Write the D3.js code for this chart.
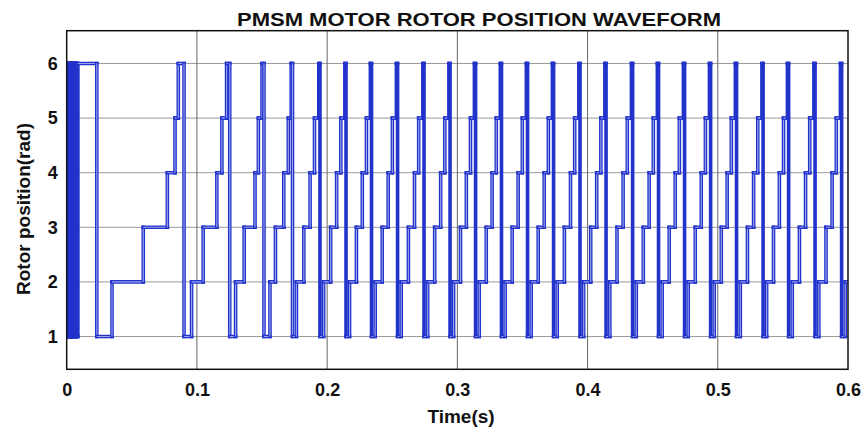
<!doctype html>
<html>
<head>
<meta charset="utf-8">
<title>PMSM Motor Rotor Position</title>
<script src="https://d3js.org/d3.v7.min.js"></script>
<style>
  body { margin: 0; background: #fff; }
  text { font-family: "Liberation Sans", Arial, sans-serif; font-weight: bold; fill: #111; }
</style>
</head>
<body>
<svg width="864" height="429"></svg>
<script>

// rotor position (hall sector) switching instants, seconds, and the level after each switch
var switchTimes = [
  0.0004, 0.0008, 0.0012, 0.0016, 0.0020, 0.0024, 0.0028, 0.0032, 0.0036, 0.0040, 0.0044,
  0.0048, 0.0052, 0.0056, 0.0060, 0.0064, 0.0068, 0.0072, 0.0076, 0.0080, 0.0086,
  0.0231, 0.0348, 0.0588, 0.0773, 0.0832, 0.0857,
  0.0901, 0.0959, 0.1048, 0.1153, 0.1192, 0.1228,
  0.1252, 0.1297, 0.1363, 0.1446, 0.1472, 0.1500,
  0.1515, 0.1561, 0.1603, 0.1667, 0.1702, 0.1724,
  0.1734, 0.1764, 0.1821, 0.1869, 0.1903, 0.1936,
  0.1945, 0.1973, 0.2027, 0.2073, 0.2105, 0.2136,
  0.2145, 0.2172, 0.2225, 0.2270, 0.2302, 0.2332,
  0.2341, 0.2369, 0.2423, 0.2469, 0.2501, 0.2532,
  0.2541, 0.2569, 0.2624, 0.2671, 0.2703, 0.2735,
  0.2744, 0.2772, 0.2826, 0.2872, 0.2904, 0.2935,
  0.2944, 0.2971, 0.3024, 0.3069, 0.3101, 0.3131,
  0.3140, 0.3168, 0.3222, 0.3267, 0.3299, 0.3330,
  0.3339, 0.3367, 0.3421, 0.3467, 0.3499, 0.3530,
  0.3539, 0.3567, 0.3621, 0.3667, 0.3699, 0.3730,
  0.3739, 0.3767, 0.3822, 0.3869, 0.3901, 0.3933,
  0.3942, 0.3970, 0.4024, 0.4070, 0.4102, 0.4133,
  0.4142, 0.4171, 0.4226, 0.4273, 0.4305, 0.4337,
  0.4346, 0.4374, 0.4428, 0.4473, 0.4505, 0.4536,
  0.4545, 0.4573, 0.4627, 0.4673, 0.4705, 0.4736,
  0.4745, 0.4773, 0.4827, 0.4873, 0.4905, 0.4936,
  0.4945, 0.4973, 0.5027, 0.5072, 0.5104, 0.5135,
  0.5144, 0.5173, 0.5228, 0.5275, 0.5307, 0.5339,
  0.5348, 0.5375, 0.5428, 0.5473, 0.5505, 0.5535,
  0.5544, 0.5572, 0.5627, 0.5674, 0.5706, 0.5738,
  0.5747, 0.5776, 0.5831, 0.5878, 0.5910, 0.5942,
  0.5951, 0.5979
];
var switchLevels = [
  6, 1, 6, 1, 6, 1, 6, 1, 6, 1, 6,
  1, 6, 1, 6, 1, 6, 1, 6, 1, 6,
  1, 2, 3, 4, 5, 6,   // 0.023 - 0.086
  1, 2, 3, 4, 5, 6,   // 0.090
  1, 2, 3, 4, 5, 6,   // 0.125
  1, 2, 3, 4, 5, 6,   // 0.152
  1, 2, 3, 4, 5, 6,   // 0.173
  1, 2, 3, 4, 5, 6,   // 0.195
  1, 2, 3, 4, 5, 6,   // 0.215
  1, 2, 3, 4, 5, 6,   // 0.234
  1, 2, 3, 4, 5, 6,   // 0.254
  1, 2, 3, 4, 5, 6,   // 0.274
  1, 2, 3, 4, 5, 6,   // 0.294
  1, 2, 3, 4, 5, 6,   // 0.314
  1, 2, 3, 4, 5, 6,   // 0.334
  1, 2, 3, 4, 5, 6,   // 0.354
  1, 2, 3, 4, 5, 6,   // 0.374
  1, 2, 3, 4, 5, 6,   // 0.394
  1, 2, 3, 4, 5, 6,   // 0.414
  1, 2, 3, 4, 5, 6,   // 0.435
  1, 2, 3, 4, 5, 6,   // 0.455
  1, 2, 3, 4, 5, 6,   // 0.475
  1, 2, 3, 4, 5, 6,   // 0.495
  1, 2, 3, 4, 5, 6,   // 0.514
  1, 2, 3, 4, 5, 6,   // 0.535
  1, 2, 3, 4, 5, 6,   // 0.554
  1, 2, 3, 4, 5, 6,   // 0.575
  1, 2                // 0.595
];
var startLevel = 1;
var endTime = 0.6;

var xTicks = [0, 0.1, 0.2, 0.3, 0.4, 0.5, 0.6];
var xTickLabels = ["0", "0.1", "0.2", "0.3", "0.4", "0.5", "0.6"];
var yTicks = [1, 2, 3, 4, 5, 6];

var svg = d3.select("svg"),
    plotLeft = 66.7, plotRight = 848, plotTop = 30.7, plotBottom = 369.3,
    width = plotRight - plotLeft,
    height = plotBottom - plotTop;

var xScale = d3.scaleLinear().domain([0, 0.6]).range([0, width]),
    yScale = d3.scaleLinear().domain([0.4, 6.6]).range([height, 0]);

var g = svg.append("g")
           .attr("transform", "translate(" + plotLeft + "," + plotTop + ")");

svg.append("defs").append("clipPath")
   .attr("id", "plot-clip")
   .append("rect")
   .attr("width", width)
   .attr("height", height);

// grid
g.append("g")
 .selectAll("line")
 .data(yTicks)
 .enter().append("line")
 .attr("x1", 0)
 .attr("x2", width)
 .attr("y1", function(d) { return yScale(d); })
 .attr("y2", function(d) { return yScale(d); })
 .attr("stroke", "#9a9a9a")
 .attr("stroke-width", 1);

g.append("g")
 .selectAll("line")
 .data(xTicks.slice(1, -1))
 .enter().append("line")
 .attr("x1", function(d) { return xScale(d); })
 .attr("x2", function(d) { return xScale(d); })
 .attr("y1", 0)
 .attr("y2", height)
 .attr("stroke", "#666")
 .attr("stroke-width", 1);

// waveform: split the step signal into its horizontal and vertical pieces,
// each drawn as a dark stroke with a light core; pieces squeezed between
// switches that come almost at once are left solid
var points = [{ t: 0, v: startLevel }];
switchTimes.forEach(function(t, i) {
    points.push({ t: t, v: switchLevels[i] });
});
points.push({ t: endTime, v: switchLevels[switchLevels.length - 1] });

var gap = 0.001;
var segments = [];
for (var i = 0; i < points.length - 1; i++) {
    var a = points[i], b = points[i + 1];
    var h = [{ t: a.t, v: a.v }, { t: b.t, v: a.v }];
    h.core = b.t - a.t >= gap;
    segments.push(h);
    if (b.v !== a.v) {
        var c = points[i + 2];
        var v = [{ t: b.t, v: a.v }, { t: b.t, v: b.v }];
        v.core = !(c && c.t - b.t < gap) && b.t - a.t >= gap;
        segments.push(v);
    }
}

var line = d3.line()
    .x(function(d) { return xScale(d.t); })
    .y(function(d) { return yScale(d.v); });

var seg = g.append("g")
    .attr("clip-path", "url(#plot-clip)")
    .attr("fill", "none")
    .selectAll("g")
    .data(segments)
    .enter().append("g");

seg.append("path")
   .attr("d", line)
   .attr("stroke", "#2233cc")
   .attr("stroke-width", 3.6)
   .attr("stroke-linecap", "square");

seg.filter(function(d) { return d.core; })
   .append("path")
   .attr("d", line)
   .attr("stroke", "#9aa3ee")
   .attr("stroke-width", 1.1);

// axes
g.append("g")
 .attr("transform", "translate(0," + height + ")")
 .call(d3.axisBottom(xScale).tickValues(xTicks).tickSize(0).tickPadding(14)
       .tickFormat(function(d, i) { return xTickLabels[i]; }))
 .call(function(a) { a.select(".domain").remove(); })
 .selectAll("text")
 .attr("font-size", "18px")
 .attr("font-family", null);

g.append("g")
 .call(d3.axisLeft(yScale).tickValues(yTicks).tickSize(0).tickPadding(9)
       .tickFormat(d3.format("d")))
 .call(function(a) { a.select(".domain").remove(); })
 .selectAll("text")
 .attr("font-size", "18px")
 .attr("font-family", null);

g.append("rect")
 .attr("width", width)
 .attr("height", height)
 .attr("fill", "none")
 .attr("stroke", "#111")
 .attr("stroke-width", 1.5);

// labels
svg.append("text")
   .attr("x", 479)
   .attr("y", 26)
   .attr("text-anchor", "middle")
   .attr("font-size", "18px")
   .attr("textLength", 484)
   .attr("lengthAdjust", "spacingAndGlyphs")
   .text("PMSM MOTOR ROTOR POSITION WAVEFORM");

svg.append("text")
   .attr("x", 461)
   .attr("y", 423)
   .attr("text-anchor", "middle")
   .attr("font-size", "19px")
   .text("Time(s)");

svg.append("text")
   .attr("transform", "translate(30,209) rotate(-90)")
   .attr("text-anchor", "middle")
   .attr("font-size", "19px")
   .text("Rotor position(rad)");

</script>
</body>
</html>
